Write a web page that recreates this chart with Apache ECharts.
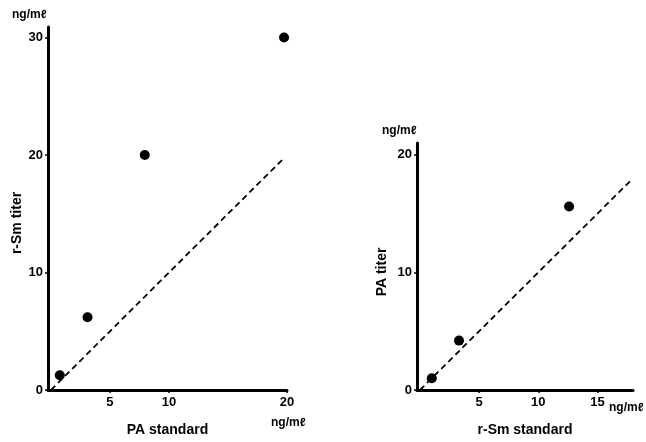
<!DOCTYPE html>
<html><head><meta charset="utf-8">
<script src="https://cdn.jsdelivr.net/npm/echarts@6/dist/echarts.min.js"></script>
<style>html,body{margin:0;padding:0;background:#fff}#c{width:646px;height:442px}</style>
</head><body><div id="c"></div>
<script>
// Left panel: PA standard (x) vs r-Sm titer (y)
const leftPoints = [[0.75, 1.25], [3.1, 6.2], [7.95, 20.0], [19.75, 30.0]];
const leftLine = [[0, 0], [19.6, 19.6]];
const leftXTicks = [5, 10, 20];
const leftYTicks = [0, 10, 20, 30];
// Right panel: r-Sm standard (x) vs PA titer (y)
const rightPoints = [[1.0, 1.0], [3.3, 4.2], [12.6, 15.6]];
const rightLine = [[0, 0], [17.9, 17.9]];
const rightXTicks = [5, 10, 15];
const rightYTicks = [0, 10, 20];

const FONT = 'Liberation Sans';
const lbl = {color: '#000', fontFamily: FONT, fontWeight: 'bold', fontSize: 13};
function xAxis(idx, min, max, ticks, name) {
  return {type: 'value', gridIndex: idx, min: min, max: max, splitLine: {show: false},
    axisLine: {show: true, onZero: false, lineStyle: {color: '#000', width: 3}},
    axisTick: {show: true, length: 3, customValues: ticks, lineStyle: {color: '#000', width: 1.5}},
    axisLabel: Object.assign({show: true, customValues: ticks, margin: 6}, lbl),
    name: name, nameLocation: 'middle', nameGap: 33,
    nameTextStyle: {color: '#000', fontFamily: FONT, fontSize: 14, fontWeight: 'bold'}};
}
function yAxis(idx, min, max, ticks) {
  return {type: 'value', gridIndex: idx, min: min, max: max, splitLine: {show: false},
    axisLine: {show: true, onZero: false, lineStyle: {color: '#000', width: 3}},
    axisTick: {show: true, length: 3, customValues: ticks, lineStyle: {color: '#000', width: 1.5}},
    axisLabel: Object.assign({show: true, customValues: ticks, margin: 5}, lbl)};
}
const unitFont = 'bold 12px ' + FONT;
const nameFont = 'bold 14px ' + FONT;
const chart = echarts.init(document.getElementById('c'));
chart.setOption({
  animation: false,
  backgroundColor: '#fff',
  grid: [
    {left: 48, right: 359, top: 27, bottom: 49},
    {left: 417, right: 13, top: 143, bottom: 51}
  ],
  xAxis: [xAxis(0, -0.25, 20, leftXTicks, 'PA standard'), xAxis(1, -0.25, 18, rightXTicks, 'r-Sm standard')],
  yAxis: [yAxis(0, 0, 30.9, leftYTicks), yAxis(1, 0, 21, rightYTicks)],
  graphic: [
    {type: 'text', x: 12, y: 9, style: {text: 'ng/mℓ', fill: '#000', font: unitFont}},
    {type: 'text', x: 271, y: 417, style: {text: 'ng/mℓ', fill: '#000', font: unitFont}},
    {type: 'text', x: 382, y: 125, style: {text: 'ng/mℓ', fill: '#000', font: unitFont}},
    {type: 'text', x: 609, y: 402, style: {text: 'ng/mℓ', fill: '#000', font: unitFont}},
    {type: 'text', x: 17, y: 223, rotation: Math.PI / 2,
      style: {text: 'r-Sm titer', fill: '#000', font: nameFont, align: 'center', verticalAlign: 'middle'}},
    {type: 'text', x: 382, y: 272, rotation: Math.PI / 2,
      style: {text: 'PA titer', fill: '#000', font: nameFont, align: 'center', verticalAlign: 'middle'}}
  ],
  series: [
    {type: 'line', xAxisIndex: 0, yAxisIndex: 0, data: leftLine, symbol: 'none',
      lineStyle: {color: '#000', width: 1.8, type: [6, 4]}},
    {type: 'scatter', xAxisIndex: 0, yAxisIndex: 0, data: leftPoints, symbolSize: 10,
      itemStyle: {color: '#000', opacity: 1}},
    {type: 'line', xAxisIndex: 1, yAxisIndex: 1, data: rightLine, symbol: 'none',
      lineStyle: {color: '#000', width: 1.8, type: [6, 4]}},
    {type: 'scatter', xAxisIndex: 1, yAxisIndex: 1, data: rightPoints, symbolSize: 10,
      itemStyle: {color: '#000', opacity: 1}}
  ]
});
</script></body></html>
